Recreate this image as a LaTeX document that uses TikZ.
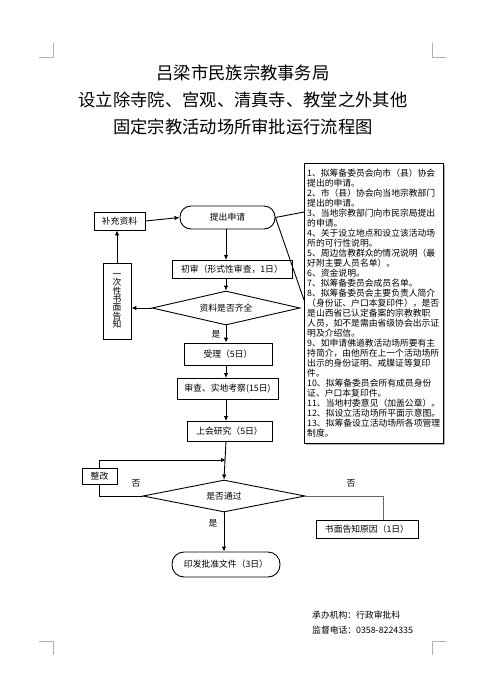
\documentclass[tikz,border=0pt]{standalone}
\usepackage{fontspec}
\setmainfont{Noto Sans CJK SC}
\usetikzlibrary{shapes.geometric,arrows.meta}
\tikzset{
  lbl/.style={font=\fontsize{8.8}{10}\selectfont, inner sep=0pt},
  box/.style={draw, line width=0.9pt, rectangle, inner sep=0pt, lbl},
  stadium/.style={box, rounded corners=11pt},
  decide/.style={draw, line width=0.9pt, diamond, aspect=5, inner sep=0pt, lbl},
  arr/.style={line width=0.9pt, -{Latex[length=5pt,width=4.5pt]}},
  ln/.style={line width=0.9pt},
  cropmark/.style={draw=gray!60, line width=0.6pt}
}
\begin{document}
\begin{tikzpicture}[x=1pt,y=-1pt]
\useasboundingbox[fill=white] (0,0) rectangle (485,689);
% corner marks
\draw[cropmark] (53,43) -- (53,57) -- (39,57);
\draw[cropmark] (432,43) -- (432,57) -- (446,57);
\draw[cropmark] (53,655) -- (53,641) -- (39,641);
\draw[cropmark] (432,655) -- (432,641) -- (446,641);
% title
\node[font=\fontsize{17.3}{20}\selectfont, inner sep=0pt] (t1) at (243,73) {吕梁市民族宗教事务局};
\node[font=\fontsize{17.3}{20}\selectfont, inner sep=0pt] (t2) at (243,100) {设立除寺院、宫观、清真寺、教堂之外其他};
\node[font=\fontsize{17.3}{20}\selectfont, inner sep=0pt] (t3) at (243,127) {固定宗教活动场所审批运行流程图};
% requirement box
\fill[gray!55] (305.5,164.5) rectangle (444.5,444.5);
\node[draw, line width=0.9pt, fill=white, minimum width=139pt, minimum height=280pt, inner sep=0pt, anchor=north west] (req) at (304,163) {};
\node[anchor=north west, inner sep=0pt, align=left, font=\fontsize{8.8}{10}\selectfont] (reqtext) at (307,169) {%
1、拟筹备委员会向市（县）协会\\
提出的申请。\\
2、市（县）协会向当地宗教部门\\
提出的申请。\\
3、当地宗教部门向市民宗局提出\\
的申请。\\
4、关于设立地点和设立该活动场\\
所的可行性说明。\\
5、周边信教群众的情况说明（最\\
好附主要人员名单）。\\
6、资金说明。\\
7、拟筹备委员会成员名单。\\
8、拟筹备委员会主要负责人简介\\
（身份证、户口本复印件），是否\\
是山西省已认定备案的宗教教职\\
人员，如不是需由省级协会出示证\\
明及介绍信。\\
9、如申请佛道教活动场所要有主\\
持简介，由他所在上一个活动场所\\
出示的身份证明、戒牒证等复印\\
件。\\
10、拟筹备委员会所有成员身份\\
证、户口本复印件。\\
11、当地村委意见（加盖公章）。\\
12、拟设立活动场所平面示意图。\\
13、拟筹备设立活动场所各项管理\\
制度。};
% flow nodes
\node[box, minimum width=51pt, minimum height=18pt] (bc) at (119.5,221) {补充资料};
\node[stadium, minimum width=95pt, minimum height=23pt] (tc) at (227.5,217.5) {提出申请};
\node[box, minimum width=120pt, minimum height=18pt] (cs) at (232,269) {初审（形式性审查，1日）};
\node[decide, minimum width=148pt, minimum height=34pt] (d1) at (226,308) {资料是否齐全};
\node[box, minimum width=28pt, minimum height=76pt, align=center, font=\fontsize{8.8}{8.4}\selectfont] (yc) at (117,301) {一\\次\\性\\书\\面\\告\\知};
\node[box, minimum width=88pt, minimum height=22pt] (sl) at (228,354) {受理（5日）};
\node[box, minimum width=101pt, minimum height=21pt] (sc) at (227.5,388.5) {审查、实地考察(15日)};
\node[box, minimum width=85pt, minimum height=20pt] (sh) at (229.5,431) {上会研究（5日）};
\node[decide, minimum width=162pt, minimum height=32pt] (d2) at (224,496) {是否通过};
\node[box, minimum width=35pt, minimum height=16pt] (zg) at (99.5,476) {整改};
\node[box, minimum width=102pt, minimum height=18pt] (sm) at (367,529) {书面告知原因（1日）};
\node[stadium, minimum width=108pt, minimum height=25pt, rounded corners=12pt] (yf) at (226,564.5) {印发批准文件（3日）};
% coordinates
\coordinate (c1) at (304,212);
\coordinate (c2) at (304,300);
\coordinate (j) at (226,460);
\coordinate (k) at (383,520);
% connectors
\draw[ln] (tc.east) -- (c1);
\draw[ln] (tc.east) -- (c2);
\draw[arr] (bc.east) -- (tc.west);
\draw[arr] (226,229) -- (226,260);
\draw[arr] (226,278) -- (d1.north);
\draw[arr] (d1.west) -- (yc.east |- d1.west);
\draw[arr] (yc.north) -- (yc.north |- bc.south);
\draw[arr] (d1.south) -- (d1.south |- sl.north);
\draw[arr] (226,365) -- (226,378);
\draw[arr] (226,399) -- (226,421);
\draw[arr] (226,441) -- (d2.north);
\draw[arr] (zg.north) |- (j);
\draw[ln] (d2.west) -| (zg.south);
\draw[ln, draw=gray!80!black] (d2.east) -| (k);
\draw[arr] (d2.south) -- (d2.south |- yf.north);
% labels
\node[lbl] (y1) at (216,334) {是};
\node[lbl] (n1) at (136,483) {否};
\node[lbl] (n2) at (351,483) {否};
\node[lbl] (y2) at (213,523) {是};
% footer
\node[lbl, anchor=west] (f1) at (312,615) {承办机构：行政审批科};
\node[lbl, anchor=west] (f2) at (312,630) {监督电话：0358-8224335};
\end{tikzpicture}
\end{document}
